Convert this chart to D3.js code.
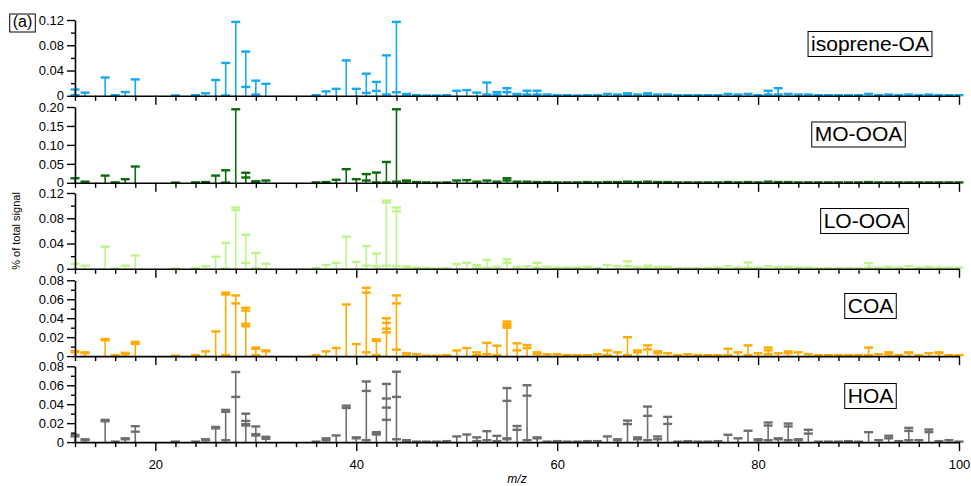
<!DOCTYPE html>
<html>
<head>
<meta charset="utf-8">
<script src="https://cdn.jsdelivr.net/npm/d3@7"></script>
<style>
  body { margin: 0; background: #fff; }
  svg { display: block; font-family: "Liberation Sans", Arial, sans-serif; }
</style>
</head>
<body>
<svg id="chart" width="971" height="486"></svg>
<script>
// m/z channels shown in the factor profiles
const mz = [12,13,15,16,17,18,22,24,25,26,27,28,29,30,31,
  36,37,38,39,40,41,42,43,44,45,46,47,48,49,50,51,52,53,54,55,56,57,58,59,60,
  61,62,63,64,65,66,67,68,69,70,71,72,73,74,75,76,77,78,79,80,
  81,82,83,84,85,86,87,88,89,90,91,92,93,94,95,96,97,98,99,100];

const factorNames = ["isoprene-OA", "MO-OOA", "LO-OOA", "COA", "HOA"];

// Each entry: the profile values (fraction of total signal) for one m/z; the
// largest is the stick height, every value gets an error-bar cap.
const isopreneOA = [
  [0.010,0.001],[0.005],[0.029],[0.001],[0.006],[0.026],[0.0005],[0.001],[0.004],[0.025],
  [0.052,0.0005],[0.117],[0.070,0.014],[0.024,0.002],[0.019],
  [0.001],[0.007],[0.011],[0.056],[0.011],[0.035,0.0045],[0.022,0.0077],[0.064,0.002],[0.117,0.0056],[0.003,0.002],
  [0.001],[0.0005],[0.0005],[0.001],[0.008],[0.009],[0.005],[0.021,0.002],[0.006,0.002],[0.012,0.0056],
  [0.003,0.002],[0.008,0.002],[0.008,0.002],[0.002],[0.001],
  [0.001],[0.0005],[0.001],[0.001],[0.003],[0.002],[0.004,0.002],[0.002],[0.004,0.002],[0.002],
  [0.002],[0.001],[0.001],[0.001],[0.001],[0.001],[0.003],[0.002],[0.003],[0.001],
  [0.008,0.002],[0.012,0.002],[0.003],[0.002],[0.002],[0.001],[0.001],[0.001],[0.001],[0.001],
  [0.003],[0.001],[0.002],[0.001],[0.002],[0.001],[0.002],[0.001],[0.001],[0.001]
];

const moOOA = [
  [0.012],[0.003],[0.019],[0.001],[0.0096],[0.043],[0.0005],[0.001],[0.002],[0.019],
  [0.033,0.0005],[0.194],[0.0265,0.014],[0.004,0.002],[0.006],
  [0.001],[0.002],[0.008],[0.036],[0.0096],[0.023,0.006],[0.027,0.001],[0.055,0.001],[0.194,0.003],[0.006,0.004],
  [0.002],[0.001],[0.0005],[0.001],[0.006],[0.007],[0.003],[0.006],[0.003],[0.012,0.006],
  [0.003],[0.003],[0.002],[0.002],[0.001],
  [0.001],[0.001],[0.002],[0.001],[0.002],[0.002],[0.003],[0.002],[0.003],[0.002],
  [0.002],[0.001],[0.001],[0.001],[0.001],[0.001],[0.002],[0.001],[0.002],[0.001],
  [0.003],[0.002],[0.002],[0.001],[0.001],[0.001],[0.001],[0.001],[0.001],[0.001],
  [0.002],[0.001],[0.001],[0.001],[0.001],[0.001],[0.001],[0.001],[0.001],[0.001]
];

const loOOA = [
  [0.008],[0.005],[0.035],[0.0005],[0.005],[0.021],[0.0005],[0.001],[0.004],[0.019],
  [0.041,0.0005],[0.097,0.093],[0.054,0.0095],[0.025,0.001],[0.008],
  [0.001],[0.006],[0.0095],[0.051],[0.011],[0.036,0.005],[0.024,0.004],[0.108,0.105,0.005],[0.097,0.091,0.004],[0.004,0.003],
  [0.002],[0.001],[0.0005],[0.001],[0.0075],[0.0095],[0.006,0.002],[0.014,0.002],[0.003],[0.015,0.0095],
  [0.003],[0.004],[0.0095,0.002],[0.003],[0.002],
  [0.002],[0.002],[0.003],[0.001],[0.006],[0.004],[0.012,0.004],[0.003],[0.005,0.002],[0.003],
  [0.003],[0.001],[0.001],[0.001],[0.001],[0.002],[0.004],[0.002],[0.010,0.002],[0.002],
  [0.004],[0.003],[0.003],[0.002],[0.002],[0.001],[0.001],[0.001],[0.001],[0.001],
  [0.009,0.002],[0.002],[0.003],[0.002],[0.004],[0.002],[0.003],[0.002],[0.002],[0.002]
];

const coa = [
  [0.0053,0.004],[0.004,0.003],[0.018,0.0167],[0.001],[0.0035,0.002],[0.015,0.013],[0.0005],[0.001],[0.005],[0.026],
  [0.067,0.065,0.001],[0.064,0.0556],[0.051,0.048,0.034,0.0315],[0.009,0.0077,0.001],[0.006,0.005],
  [0.001],[0.005],[0.0085],[0.0545],[0.0127],[0.072,0.067,0.004],[0.0177,0.016,0.001],[0.040,0.035,0.029,0.025],[0.064,0.0556,0.0068],[0.003,0.002],
  [0.002],[0.0005],[0.0005],[0.001],[0.006],[0.0085],[0.004,0.001],[0.014,0.002],[0.011,0.001],[0.0365,0.034,0.032,0.030],
  [0.0135,0.006],[0.0117,0.0085],[0.004,0.002],[0.002],[0.002],
  [0.001],[0.001],[0.001],[0.002],[0.006,0.001],[0.004],[0.020,0.001],[0.006,0.004],[0.0113,0.007],[0.005,0.003],
  [0.003],[0.001],[0.002],[0.001],[0.001],[0.001],[0.0078,0.001],[0.004],[0.0113,0.001],[0.003],
  [0.009,0.006,0.002],[0.003],[0.005,0.003],[0.004],[0.002],[0.001],[0.001],[0.001],[0.001],[0.001],
  [0.009,0.001],[0.002],[0.004,0.002],[0.001],[0.004,0.003],[0.001],[0.003],[0.004,0.003],[0.001],[0.001]
];

const hoa = [
  [0.0077,0.006],[0.003,0.002],[0.0235,0.022],[0.0005],[0.004,0.003],[0.0168,0.011],[0.0005],[0.0005],[0.003,0.002],[0.016,0.0145],
  [0.034,0.032,0.002],[0.074,0.0477],[0.030,0.0224,0.019,0.0175],[0.0165,0.0084,0.007],[0.0056,0.0035],
  [0.0005],[0.004,0.002],[0.007],[0.0385,0.036],[0.005,0.004],[0.064,0.054,0.002],[0.0105,0.009,0.008],[0.0614,0.046,0.0364,0.0235],[0.0743,0.0477,0.003],[0.002,0.001],
  [0.0005],[0.0005],[0.0005],[0.001],[0.006],[0.008],[0.005,0.001],[0.0115,0.002],[0.0066,0.001],[0.057,0.0435,0.004,0.003],
  [0.017,0.013],[0.060,0.049,0.002],[0.005,0.004],[0.0005],[0.001],
  [0.0005],[0.0005],[0.001],[0.001],[0.006],[0.003,0.002],[0.0227,0.019],[0.005,0.003],[0.0375,0.0277,0.002],[0.006,0.003],
  [0.0266,0.0192],[0.0005],[0.001],[0.0005],[0.0005],[0.001],[0.0077],[0.004],[0.012],[0.003,0.002],
  [0.0207,0.0175,0.002],[0.004,0.003],[0.0196,0.0165,0.002],[0.003,0.002],[0.013,0.009],[0.0005],[0.0005],[0.0005],[0.001],[0.0005],
  [0.0105],[0.002],[0.0067,0.004],[0.001],[0.015,0.0118,0.002],[0.002],[0.0133,0.0105],[0.001],[0.002],[0.0005]
];

const profiles = [isopreneOA, moOOA, loOOA, coa, hoa];
const colors = ["#12a9f0", "#0b6a0b", "#bdf58a", "#ffab00", "#6e6e6e"];
const yMax = [0.12, 0.20, 0.12, 0.08, 0.08];
const yTicks = [
  [0, 0.04, 0.08, 0.12],
  [0, 0.05, 0.10, 0.15, 0.20],
  [0, 0.04, 0.08, 0.12],
  [0, 0.02, 0.04, 0.06, 0.08],
  [0, 0.02, 0.04, 0.06, 0.08]
];
const yMinorTicks = [
  [0.02, 0.06, 0.10],
  [],
  [0.02, 0.06, 0.10],
  [0.01, 0.03, 0.05, 0.07],
  [0.01, 0.03, 0.05, 0.07]
];
const xMajorTicks = [20, 40, 60, 80, 100];
const xMinorTicks = d3.range(12, 101, 2);

const svg = d3.select("#chart");

const x = d3.scaleLinear().domain([12, 100]).range([75, 959]);
const panelTop = [20, 107, 193, 280.3, 366.3];
const panelH = 75.8;
const capW = 9;

const fmt = v => v === 0 ? "0" : d3.format(".2f")(v);

profiles.forEach((prof, i) => {
  const y = d3.scaleLinear().domain([0, yMax[i]]).range([panelTop[i] + panelH, panelTop[i]]);
  const g = svg.append("g");

  // sticks
  const bars = g.append("g").attr("stroke", colors[i]);
  bars.selectAll("line.stick")
    .data(mz.map((m, k) => ({ m, vals: prof[k] })))
    .join("line")
    .attr("class", "stick")
    .attr("x1", d => x(d.m)).attr("x2", d => x(d.m))
    .attr("y1", y(0)).attr("y2", d => y(d3.max(d.vals)))
    .attr("stroke-width", 1.6);

  // error-bar caps
  const caps = [];
  mz.forEach((m, k) => prof[k].forEach(v => caps.push({ m, v })));
  bars.selectAll("line.cap")
    .data(caps)
    .join("line")
    .attr("class", "cap")
    .attr("x1", d => x(d.m) - capW / 2).attr("x2", d => x(d.m) + capW / 2)
    .attr("y1", d => y(d.v)).attr("y2", d => y(d.v))
    .attr("stroke-width", 2.4);

  // y axis
  const ya = g.append("g").attr("transform", `translate(${x(12)},0)`)
    .call(d3.axisLeft(y).tickValues(yTicks[i]).tickSize(8).tickSizeOuter(0).tickFormat(fmt).tickPadding(3));
  ya.select(".domain").attr("stroke-width", 1.6);
  ya.selectAll(".tick line").attr("stroke-width", 1.4);
  ya.selectAll(".tick text").attr("font-size", 13).attr("font-family", "Liberation Sans, Arial, sans-serif").attr("fill", "#000");
  const yam = g.append("g").attr("transform", `translate(${x(12)},0)`)
    .call(d3.axisLeft(y).tickValues(yMinorTicks[i]).tickSize(4).tickFormat(""));
  yam.select(".domain").remove();
  yam.selectAll(".tick line").attr("stroke-width", 1.4);

  // x axis along the zero line
  const xa = g.append("g").attr("transform", `translate(0,${y(0)})`)
    .call(d3.axisBottom(x).tickValues(xMinorTicks.filter(t => xMajorTicks.indexOf(t) < 0)).tickSize(5).tickSizeOuter(0).tickFormat(""));
  xa.select(".domain").attr("stroke-width", 1.6);
  xa.selectAll(".tick line").attr("stroke-width", 1.4);
  const xaj = g.append("g").attr("transform", `translate(0,${y(0)})`)
    .call(d3.axisBottom(x).tickValues(xMajorTicks).tickSize(9).tickSizeOuter(0)
      .tickFormat(i === profiles.length - 1 ? d3.format("d") : ""));
  xaj.select(".domain").remove();
  xaj.selectAll(".tick line").attr("stroke-width", 1.4);
  xaj.selectAll(".tick text").attr("font-size", 13).attr("dy", "1.15em")
    .attr("font-family", "Liberation Sans, Arial, sans-serif").attr("fill", "#000");
});

// factor name boxes
const labelBoxes = [
  { cx: 870, cy: 43 },
  { cx: 858.5, cy: 133.5 },
  { cx: 864.5, cy: 220 },
  { cx: 870.5, cy: 305 },
  { cx: 870.5, cy: 395 }
];
factorNames.forEach((name, i) => {
  const g = svg.append("g");
  const t = g.append("text")
    .attr("x", labelBoxes[i].cx).attr("y", labelBoxes[i].cy)
    .attr("text-anchor", "middle").attr("dominant-baseline", "central")
    .attr("font-size", 21).attr("fill", "#000").text(name);
  const bb = t.node().getBBox();
  g.insert("rect", "text")
    .attr("x", bb.x - 3).attr("y", bb.y)
    .attr("width", bb.width + 6).attr("height", bb.height + 2)
    .attr("fill", "#fff").attr("stroke", "#000").attr("stroke-width", 1);
});

// panel tag
const tag = svg.append("g");
const tt = tag.append("text").attr("x", 22.5).attr("y", 21.5)
  .attr("text-anchor", "middle").attr("dominant-baseline", "central")
  .attr("font-size", 16).attr("fill", "#000").text("(a)");
const tb = tt.node().getBBox();
tag.insert("rect", "text").attr("x", tb.x - 3).attr("y", tb.y + 1)
  .attr("width", tb.width + 6).attr("height", tb.height + 1)
  .attr("fill", "none").attr("stroke", "#000").attr("stroke-width", 1);

// axis titles
svg.append("text")
  .attr("transform", "translate(20,231) rotate(-90)")
  .attr("text-anchor", "middle").attr("font-size", 11).attr("fill", "#000")
  .text("% of total signal");
svg.append("text")
  .attr("x", 517).attr("y", 483)
  .attr("text-anchor", "middle").attr("font-size", 12).attr("font-style", "italic").attr("fill", "#000")
  .text("m/z");
</script>
</body>
</html>
